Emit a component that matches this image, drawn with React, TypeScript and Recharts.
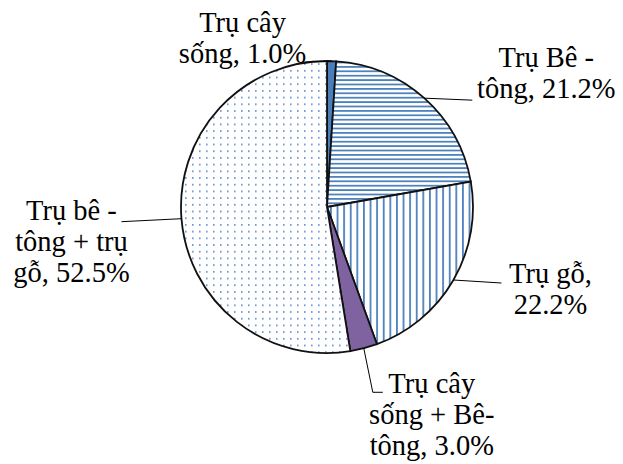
import { Cell, Pie, PieChart } from "recharts";

// slice names ("\n" = line break in the label), values in %
const NAMES = [
  "Trụ cây\nsống",
  "Trụ Bê -\ntông",
  "Trụ gỗ",
  "Trụ cây\nsống + Bê-\ntông",
  "Trụ bê -\ntông + trụ\ngỗ"
];
const VALUES = [1.0, 21.2, 22.2, 3.0, 52.5];
// value goes on its own line after the comma
const VALUE_ON_NEW_LINE = [false, false, true, false, false];

const FILLS = [
  "#4A7EBB",
  "url(#hstripe)",
  "url(#vstripe)",
  "#7F62A0",
  "url(#dots)"
];

// label placement relative to the slice's outer edge point
const LABEL_LAYOUT = [
  { leader: [[-27, 1]], tx: -89, ty: -29 },
  { leader: [[48, 2]], tx: 122, ty: -31 },
  { leader: [[48, 3]], tx: 97, ty: 3 },
  { leader: [[9, 44], [19, 44]], tx: 68, ty: 45 },
  { leader: [[-60, 3]], tx: -110, ty: 1 }
];

const LINE_HEIGHT = 31;
const RADIAN = Math.PI / 180;

const data = NAMES.map((name, i) => ({ name, value: VALUES[i] }));

function renderLabel(props: any) {
  const { cx, cy, midAngle, outerRadius, index } = props;
  const ex = cx + outerRadius * Math.cos(-midAngle * RADIAN);
  const ey = cy + outerRadius * Math.sin(-midAngle * RADIAN);
  const layout = LABEL_LAYOUT[index];
  const pts = [[0, 0], ...layout.leader]
    .map(([dx, dy]) => `${ex + dx},${ey + dy}`)
    .join(" ");
  const sep = VALUE_ON_NEW_LINE[index] ? ",\n" : ", ";
  const text = `${NAMES[index]}${sep}${VALUES[index].toFixed(1)}%`;
  const lines = text.split("\n");
  const x = ex + layout.tx;
  return (
    <g key={`label-${index}`}>
      <polyline points={pts} fill="none" stroke="#000" strokeWidth={1} />
      <text
        x={x}
        y={ey + layout.ty}
        textAnchor="middle"
        fill="#000"
        fontFamily="'Liberation Serif', serif"
        fontSize={28.5}
      >
        {lines.map((line, i) => (
          <tspan key={i} x={x} dy={i === 0 ? 0 : LINE_HEIGHT}>
            {line}
          </tspan>
        ))}
      </text>
    </g>
  );
}

export default function App() {
  return (
    <div style={{ position: "absolute", left: 0, top: 0, background: "#fff" }}>
      <PieChart
        width={623}
        height={464}
        margin={{ top: 0, right: 0, bottom: 0, left: 0 }}
      >
        <defs>
          <pattern
            id="hstripe"
            patternUnits="userSpaceOnUse"
            width={8}
            height={4.4}
          >
            <rect width={8} height={4.4} fill="#fff" />
            <rect width={8} height={1.8} fill="#4F81BD" />
          </pattern>
          <pattern
            id="vstripe"
            patternUnits="userSpaceOnUse"
            width={6.6}
            height={8}
          >
            <rect width={6.6} height={8} fill="#fff" />
            <rect width={1.8} height={8} fill="#4F81BD" />
          </pattern>
          <pattern id="dots" patternUnits="userSpaceOnUse" width={7} height={6.7}>
            <rect width={7} height={6.7} fill="#fff" />
            <rect x={3} y={3} width={1.6} height={1.6} fill="#5B8BC9" />
          </pattern>
        </defs>
        <Pie
          data={data}
          dataKey="value"
          nameKey="name"
          cx={327}
          cy={207}
          outerRadius={146}
          startAngle={90}
          endAngle={-270}
          stroke="#111"
          strokeWidth={1.8}
          label={renderLabel}
          labelLine={false}
          isAnimationActive={false}
        >
          {data.map((item, index) => (
            <Cell key={`${item.name}-${index}`} fill={FILLS[index]} />
          ))}
        </Pie>
      </PieChart>
    </div>
  );
}
